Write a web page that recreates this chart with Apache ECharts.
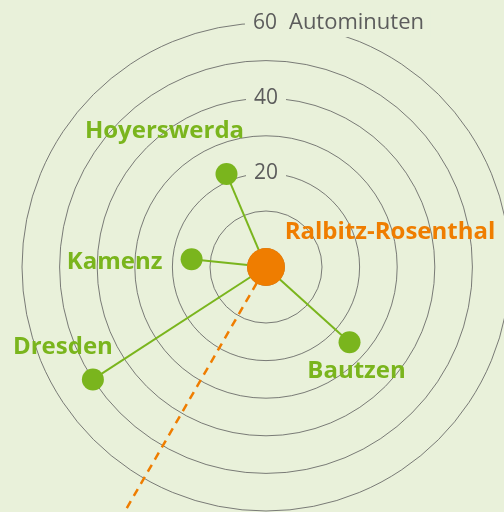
<!DOCTYPE html>
<html lang="de">
<head>
    <meta charset="UTF-8">
    <title>Autominuten ab Ralbitz-Rosenthal</title>
    <script src="https://cdn.jsdelivr.net/npm/echarts@6/dist/echarts.min.js"></script>
    <style>
        html, body { margin: 0; padding: 0; background: #e9f1da; }
    </style>
</head>
<body>
    <div id="container" style="width: 504px; height: 512px;"></div>
    <script>
        // Ziele: Fahrzeit in Minuten und Richtung (Grad, gegen den Uhrzeigersinn ab Osten)
        var places = ['Hoyerswerda', 'Kamenz', 'Dresden', 'Bautzen'];
        var minutes = [22, 15, 50, 25];
        var bearings = [113, 174, 213, 318];
        var origin = 'Ralbitz-Rosenthal';
        // gestrichelte Richtung
        var rayBearing = 240;
        var rayMinutes = 72;
        // Ringe
        var ringMax = 60;
        var ringStep = 10;
        var ringLabels = [20, 40, 60];
        var ringUnit = 'Autominuten';

        var bg = '#e9f1da';
        var green = '#7ab51d';
        var orange = '#ef7d00';
        var grey = '#5c5c5c';
        var center = [266, 267];
        var innerR = 18.4, outerR = 244, rayR = 320;
        var font = '"Open Sans", "Noto Sans", sans-serif';

        // Label-Versatz (Pixel) je Ort
        var labelOffsets = [[-62, -43], [-77, 3], [-30, -32], [7, 29]];

        var hiddenAngle = {
            type: 'value', min: 0, max: 360, startAngle: 0, clockwise: false,
            axisLine: { show: false }, axisTick: { show: false },
            axisLabel: { show: false }, splitLine: { show: false }
        };
        var hiddenRadius = {
            type: 'value', min: 0,
            axisLine: { show: false }, axisTick: { show: false },
            axisLabel: { show: false }, splitLine: { show: false }
        };

        var series = [];
        places.forEach(function(name, i) {
            series.push({
                type: 'line',
                coordinateSystem: 'polar',
                polarIndex: 0,
                symbol: 'none',
                silent: true,
                z: 2,
                lineStyle: { color: green, width: 2 },
                data: [[0, bearings[i]], [minutes[i], bearings[i]]]
            });
        });
        // polar 3 has the same scale as polar 0, only a larger outer radius
        series.push({
            type: 'line',
            coordinateSystem: 'polar',
            polarIndex: 3,
            symbol: 'none',
            z: 2,
            lineStyle: { color: orange, width: 2.5, type: [8, 6] },
            data: [[0, rayBearing], [rayMinutes, rayBearing]]
        });
        series.push({
            type: 'scatter',
            coordinateSystem: 'polar',
            polarIndex: 0,
            symbolSize: 22,
            z: 3,
            itemStyle: { color: green, opacity: 1 },
            label: {
                show: true,
                position: 'inside',
                align: 'center',
                verticalAlign: 'middle',
                fontFamily: font,
                fontWeight: 'bold',
                fontSize: 24,
                color: green,
                formatter: function(p) { return p.name; }
            },
            data: places.map(function(name, i) {
                return {
                    name: name,
                    value: [minutes[i], bearings[i]],
                    label: { offset: labelOffsets[i] }
                };
            })
        });
        series.push({
            type: 'scatter',
            coordinateSystem: 'polar',
            polarIndex: 2,
            symbolSize: 38,
            z: 4,
            itemStyle: { color: orange, opacity: 1 },
            label: {
                show: true,
                position: 'inside',
                align: 'center',
                verticalAlign: 'middle',
                offset: [124, -35],
                fontFamily: font,
                fontWeight: 'bold',
                fontSize: 24,
                color: orange,
                formatter: function(p) { return p.name; }
            },
            data: [{ name: origin, value: [0, 0] }]
        });

        var myCharts = echarts.init(document.querySelector('#container'));
        myCharts.setOption({
            backgroundColor: bg,
            animation: false,
            polar: [
                { center: center, radius: [innerR, outerR] },
                { center: center, radius: [innerR, outerR] },
                { center: center, radius: [0, outerR] },
                { center: center, radius: [innerR, rayR] }
            ],
            angleAxis: [
                Object.assign({ polarIndex: 0 }, hiddenAngle),
                Object.assign({ polarIndex: 1 }, hiddenAngle, { startAngle: 90 }),
                Object.assign({ polarIndex: 2 }, hiddenAngle),
                Object.assign({ polarIndex: 3 }, hiddenAngle)
            ],
            radiusAxis: [
                {
                    polarIndex: 0,
                    type: 'value', min: 0, max: ringMax, interval: ringStep,
                    z: 0,
                    axisLine: { show: false }, axisTick: { show: false },
                    axisLabel: { show: false },
                    splitLine: { show: true, lineStyle: { color: grey, width: 0.8 } }
                },
                {
                    polarIndex: 1,
                    type: 'value', min: 0, max: ringMax, interval: ringStep,
                    z: 5,
                    axisLine: { show: false }, axisTick: { show: false },
                    splitLine: { show: false },
                    axisLabel: {
                        show: true,
                        margin: 0,
                        align: 'center',
                        verticalAlign: 'middle',
                        showMinLabel: true,
                        showMaxLabel: true,
                        formatter: function(v) {
                            if (ringLabels.indexOf(v) < 0) return '';
                            if (v === ringLabels[ringLabels.length - 1]) {
                                return '{p|}{v|' + v + '}{u|' + ringUnit + '}';
                            }
                            return '{v|' + v + '}';
                        },
                        rich: {
                            v: { fontFamily: font, fontSize: 21, color: grey, backgroundColor: bg, padding: [3, 8, 3, 8] },
                            u: { fontFamily: font, fontSize: 22, color: grey, backgroundColor: bg, padding: [3, 6, 3, 4] },
                            p: { width: 143 }
                        }
                    }
                },
                Object.assign({ polarIndex: 2, max: ringMax }, hiddenRadius),
                Object.assign({ polarIndex: 3, max: ringMax * (rayR - innerR) / (outerR - innerR) }, hiddenRadius)
            ],
            series: series
        });
    </script>
</body>
</html>
